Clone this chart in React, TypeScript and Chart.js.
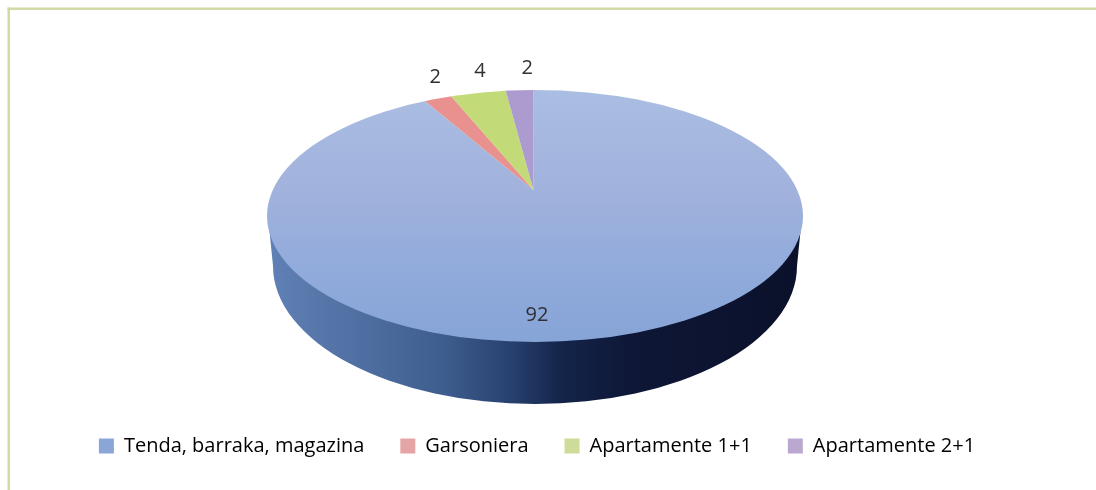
import React, { useEffect, useRef } from "react";
import { Chart, registerables } from "chart.js";

Chart.register(...registerables);

const categories = ["Tenda, barraka, magazina", "Garsoniera", "Apartamente 1+1", "Apartamente 2+1"];
const values = [92, 2, 4, 2];
const sliceColors = ["#8fa9da", "#e8918f", "#c2da78", "#ab9bcf"];
const legendColors = ["#8aa5d6", "#e6a5a5", "#cddc98", "#baa8d0"];
const FONT = "'Open Sans'";

// Projection of the round pie onto the picture: apex of the slices and the visible faces.
const APEX = { x: 533.5, y: 190 };
const SLICE_RX = 224 * 1.8;
const SLICE_RY = 101 * 1.8;
const TOP = { x: 535, y: 216, rx: 268, ry: 126 };
const BOTTOM = { x: 535, y: 266, rx: 262, ry: 138 };

const view = (chart: any) => {
  const a = chart.chartArea;
  return { x: (a.left + a.right) / 2, y: (a.top + a.bottom) / 2, r: Math.min(a.right - a.left, a.bottom - a.top) / 2 };
};

const topFace = (ctx: CanvasRenderingContext2D) => {
  ctx.beginPath();
  ctx.ellipse(TOP.x, TOP.y, TOP.rx, TOP.ry, 0, 0, Math.PI * 2);
};

const pie3d = {
  id: "pie3d",
  beforeDraw(chart: any) {
    const ctx = chart.ctx;
    ctx.save();
    ctx.fillStyle = "#ffffff";
    ctx.fillRect(0, 0, chart.width, chart.height);
    ctx.fillStyle = "#d3d9a6";
    ctx.fillRect(7.5, 7.5, chart.width, 2.5);
    ctx.fillRect(7.5, 7.5, 2.5, chart.height);
    ctx.restore();
  },
  beforeDatasetsDraw(chart: any) {
    const ctx = chart.ctx;
    const side = ctx.createLinearGradient(BOTTOM.x - BOTTOM.rx, 0, BOTTOM.x + BOTTOM.rx, 0);
    side.addColorStop(0, "#5f80b4");
    side.addColorStop(0.16, "#506fa2");
    side.addColorStop(0.32, "#3f5e90");
    side.addColorStop(0.46, "#263f6d");
    side.addColorStop(0.55, "#14244a");
    side.addColorStop(0.68, "#0e1737");
    side.addColorStop(1, "#0b112a");
    ctx.save();
    ctx.fillStyle = side;
    ctx.beginPath();
    ctx.moveTo(TOP.x - TOP.rx + 1, TOP.y);
    ctx.lineTo(BOTTOM.x - BOTTOM.rx, BOTTOM.y);
    ctx.ellipse(BOTTOM.x, BOTTOM.y, BOTTOM.rx, BOTTOM.ry, 0, Math.PI, 0, true);
    ctx.lineTo(TOP.x + TOP.rx - 1, TOP.y);
    ctx.closePath();
    ctx.fill();
    ctx.restore();

    const v = view(chart);
    ctx.save();
    topFace(ctx);
    ctx.clip();
    ctx.translate(APEX.x, APEX.y);
    ctx.scale(SLICE_RX / v.r, SLICE_RY / v.r);
    ctx.translate(-v.x, -v.y);
  },
  afterDatasetsDraw(chart: any) {
    const ctx = chart.ctx;
    ctx.restore();
    const meta = chart.getDatasetMeta(0);
    ctx.save();
    ctx.font = `20px ${FONT}`;
    ctx.fillStyle = "#2f2f33";
    ctx.textAlign = "center";
    ctx.textBaseline = "middle";
    meta.data.forEach((arc: any, i: number) => {
      const { startAngle, endAngle } = arc.getProps(["startAngle", "endAngle"], true);
      const mid = (startAngle + endAngle) / 2 + Math.PI / 2;
      const text = String(values[i]);
      if (i === 0) {
        ctx.fillText(text, TOP.x + 2, TOP.y + TOP.ry - 27);
        return;
      }
      const x = APEX.x + Math.sin(mid) * 253 + 9.5;
      const dx = (x - TOP.x) / TOP.rx;
      const y = TOP.y - TOP.ry * Math.sqrt(1 - dx * dx) - 21.5;
      ctx.fillText(text, x, y);
    });
    ctx.restore();
  },
};

export default function App() {
  const ref = useRef<HTMLCanvasElement | null>(null);
  useEffect(() => {
    const canvas = ref.current;
    if (!canvas) return;
    const chart = new Chart(canvas, {
      type: "pie",
      data: {
        labels: categories,
        datasets: [
          {
            data: values,
            clip: false,
            borderWidth: 0,
            backgroundColor: (c: any) => {
              if (c.dataIndex !== 0 || !c.chart.chartArea) return sliceColors[c.dataIndex];
              const v = view(c.chart);
              const sy = SLICE_RY / v.r;
              const at = (y: number) => v.y + (y - APEX.y) / sy;
              const g = c.chart.ctx.createLinearGradient(0, at(90), 0, at(342));
              g.addColorStop(0, "#aabde2");
              g.addColorStop(0.4, "#a1b2dc");
              g.addColorStop(0.75, "#8faadb");
              g.addColorStop(1, "#87a4d7");
              return g;
            },
          } as any,
        ],
      },
      options: {
        responsive: false,
        animation: false,
        layout: { padding: { bottom: 27, right: 22 } },
        plugins: {
          tooltip: { enabled: false },
          legend: {
            position: "bottom",
            labels: {
              boxWidth: 15,
              boxHeight: 15,
              padding: 36,
              color: "#2f2f33",
              font: { family: FONT, size: 20 },
              generateLabels: () =>
                categories.map((text, i) => ({
                  text,
                  index: i,
                  fillStyle: legendColors[i],
                  strokeStyle: legendColors[i],
                  lineWidth: 0,
                  hidden: false,
                })),
            },
          },
        },
      },
      plugins: [pie3d],
    } as any);
    return () => chart.destroy();
  }, []);
  return (
    <div style={{ position: "fixed", left: 0, top: 0, width: 1096, height: 490, overflow: "hidden", background: "#fff" }}>
      <canvas ref={ref} width={1096} height={493} style={{ display: "block" }} />
    </div>
  );
}
